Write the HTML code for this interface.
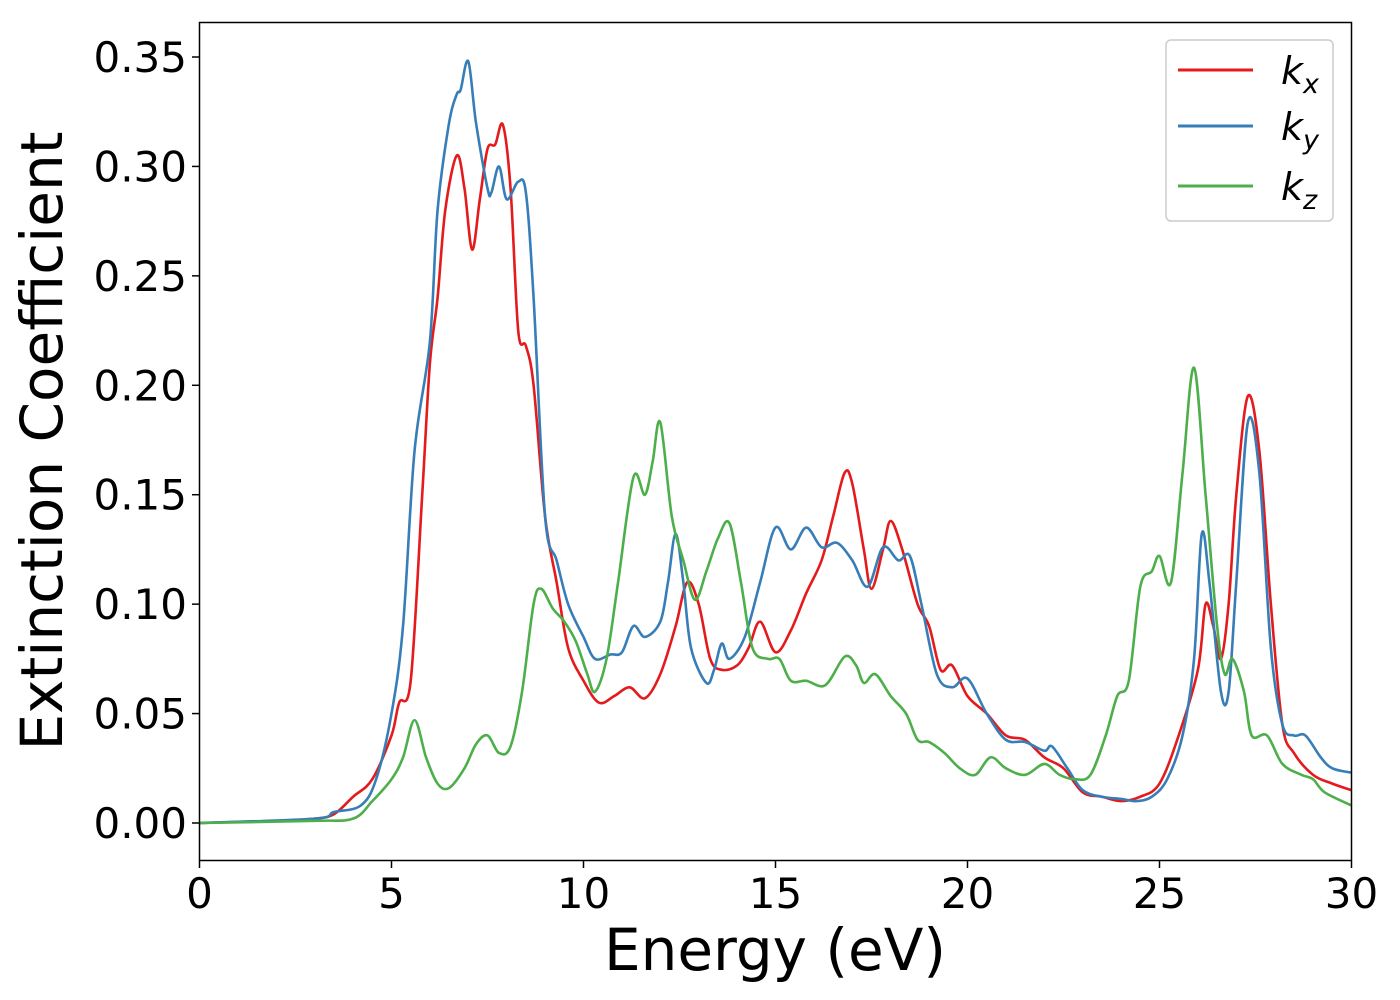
<!DOCTYPE html>
<html><head><meta charset="utf-8"><style>
body{margin:0;background:#fff;}
svg{display:block;font-family:"DejaVu Sans","Liberation Sans",sans-serif;}
</style></head><body>
<svg id="chart" width="1400" height="1000">
<rect x="0" y="0" width="1400" height="1000" fill="#fff"/>
<g id="plot"></g>
<rect x="199.5" y="22.5" width="1152" height="838" fill="none" stroke="#000" stroke-width="1.5"/>
<g id="ticks"></g>
<text x="775" y="970" font-size="58" text-anchor="middle">Energy (eV)</text>
<text transform="translate(62,441) rotate(-90)" font-size="58" text-anchor="middle">Extinction Coefficient</text>
<g>
<rect x="1166" y="40" width="167" height="181" rx="5" fill="#fff" stroke="#ccc" stroke-width="1.5"/>
<g><line x1="1178" x2="1253" y1="70" y2="70" stroke="#e41a1c" stroke-width="3"/><text x="1281" y="84" font-size="38" font-style="italic">k<tspan font-size="27" dy="9">x</tspan></text></g>
<g><line x1="1178" x2="1253" y1="126" y2="126" stroke="#377eb8" stroke-width="3"/><text x="1281" y="140" font-size="38" font-style="italic">k<tspan font-size="27" dy="9">y</tspan></text></g>
<g><line x1="1178" x2="1253" y1="186" y2="186" stroke="#4daf4a" stroke-width="3"/><text x="1281" y="200" font-size="38" font-style="italic">k<tspan font-size="27" dy="9">z</tspan></text></g>
</g>
</svg>
<script>
const xTicks=[0,5,10,15,20,25,30];
const yTicks=[0,0.05,0.10,0.15,0.20,0.25,0.30,0.35];
const yTickLabels=["0.00","0.05","0.10","0.15","0.20","0.25","0.30","0.35"];
const kxE=[0,2,3,3.5,4,4.5,5,5.2,5.5,5.8,6.0,6.2,6.4,6.7,6.9,7.1,7.3,7.5,7.7,7.9,8.1,8.3,8.5,8.7,9.0,9.3,9.6,10.0,10.4,10.8,11.2,11.6,12.0,12.4,12.7,13.0,13.3,13.6,14.0,14.3,14.6,15.0,15.4,15.8,16.2,16.5,16.8,17.0,17.3,17.5,17.8,18.0,18.3,18.7,19.0,19.3,19.6,20.0,20.5,21.0,21.5,22.0,22.5,23.0,23.5,24.0,24.5,25.0,25.5,26.0,26.2,26.4,26.6,26.8,27.0,27.3,27.6,27.9,28.2,28.5,29.0,29.5,30];
const kxV=[0,0.001,0.002,0.004,0.012,0.02,0.04,0.055,0.065,0.15,0.21,0.24,0.28,0.305,0.29,0.262,0.285,0.308,0.31,0.319,0.29,0.225,0.218,0.2,0.14,0.11,0.08,0.065,0.055,0.058,0.062,0.057,0.068,0.09,0.11,0.1,0.075,0.07,0.072,0.08,0.092,0.078,0.088,0.105,0.12,0.14,0.16,0.155,0.125,0.107,0.125,0.138,0.125,0.1,0.09,0.07,0.072,0.058,0.05,0.04,0.038,0.03,0.025,0.014,0.012,0.01,0.012,0.018,0.04,0.07,0.1,0.09,0.075,0.1,0.15,0.195,0.17,0.1,0.045,0.032,0.022,0.018,0.015];
const kyE=[0,3,3.5,4.2,4.6,5.0,5.3,5.6,6.0,6.2,6.5,6.7,6.8,7.0,7.2,7.5,7.6,7.8,8.0,8.3,8.5,8.7,9.0,9.3,9.6,10.0,10.3,10.7,11.0,11.3,11.6,12.0,12.2,12.4,12.6,12.8,13.2,13.4,13.6,13.8,14.2,14.6,15.0,15.4,15.8,16.2,16.6,17.0,17.4,17.8,18.2,18.5,18.8,19.2,19.6,20.0,20.5,21.0,21.5,22.0,22.2,22.6,23.0,23.5,24.0,24.4,24.8,25.2,25.6,25.9,26.1,26.3,26.6,26.8,27.0,27.3,27.6,27.9,28.2,28.5,28.8,29.2,29.5,30];
const kyV=[0,0.002,0.005,0.008,0.02,0.05,0.09,0.17,0.22,0.28,0.32,0.333,0.335,0.348,0.32,0.29,0.288,0.3,0.285,0.293,0.288,0.24,0.14,0.12,0.1,0.085,0.075,0.077,0.078,0.09,0.085,0.092,0.11,0.132,0.11,0.08,0.064,0.07,0.082,0.075,0.085,0.11,0.135,0.125,0.135,0.126,0.128,0.12,0.108,0.126,0.12,0.122,0.1,0.068,0.062,0.066,0.05,0.038,0.037,0.033,0.035,0.025,0.015,0.012,0.011,0.01,0.012,0.02,0.04,0.075,0.132,0.11,0.06,0.06,0.11,0.183,0.16,0.08,0.045,0.04,0.04,0.03,0.025,0.023];
const kzE=[0,3,4,4.5,5.0,5.3,5.6,5.9,6.2,6.5,6.9,7.2,7.5,7.8,8.1,8.4,8.7,8.9,9.2,9.5,9.8,10.1,10.3,10.6,10.9,11.3,11.6,11.8,12.0,12.3,12.6,12.9,13.2,13.5,13.8,14.1,14.4,14.8,15.1,15.4,15.8,16.3,16.8,17.1,17.3,17.6,18.0,18.4,18.7,19.0,19.4,19.8,20.2,20.6,21.0,21.5,22.0,22.4,22.8,23.2,23.6,23.9,24.2,24.5,24.8,25.0,25.3,25.6,25.9,26.2,26.5,26.7,26.9,27.2,27.4,27.8,28.2,28.7,29.0,29.3,30];
const kzV=[0,0.001,0.002,0.01,0.02,0.03,0.047,0.03,0.018,0.016,0.025,0.036,0.04,0.032,0.035,0.06,0.1,0.107,0.098,0.092,0.083,0.068,0.06,0.075,0.11,0.158,0.15,0.165,0.183,0.14,0.12,0.102,0.115,0.13,0.137,0.11,0.08,0.075,0.075,0.065,0.065,0.063,0.076,0.072,0.064,0.068,0.058,0.05,0.038,0.037,0.032,0.025,0.022,0.03,0.025,0.022,0.027,0.022,0.02,0.022,0.04,0.058,0.065,0.108,0.115,0.122,0.11,0.16,0.208,0.15,0.09,0.068,0.075,0.06,0.04,0.04,0.027,0.022,0.02,0.014,0.008];
const NS='http://www.w3.org/2000/svg';
const xs=e=>199.5+e*1152/30;
const ys=v=>823-v*(823-57)/0.35;
function smooth(E,V){
  const p=E.map((e,i)=>[xs(e),ys(V[i])]);
  let d='M'+p[0][0]+','+p[0][1];
  for(let i=0;i<p.length-1;i++){
    const p0=p[i-1]||p[i],p1=p[i],p2=p[i+1],p3=p[i+2]||p2;
    const c1=[p1[0]+(p2[0]-p0[0])/6,p1[1]+(p2[1]-p0[1])/6];
    const c2=[p2[0]-(p3[0]-p1[0])/6,p2[1]-(p3[1]-p1[1])/6];
    d+=' C'+c1[0]+','+c1[1]+' '+c2[0]+','+c2[1]+' '+p2[0]+','+p2[1];
  }
  return d;
}
const plot=document.getElementById('plot');
[[kxE,kxV,'#e41a1c','series-kx'],[kyE,kyV,'#377eb8','series-ky'],[kzE,kzV,'#4daf4a','series-kz']].forEach(s=>{
  const path=document.createElementNS(NS,'path');
  path.setAttribute('d',smooth(s[0],s[1]));
  path.setAttribute('fill','none');
  path.setAttribute('stroke',s[2]);
  path.setAttribute('stroke-width','2.6');
  
  
  plot.appendChild(path);
});
const tg=document.getElementById('ticks');
xTicks.forEach(t=>{
  const l=document.createElementNS(NS,'line');
  l.setAttribute('x1',xs(t));l.setAttribute('x2',xs(t));l.setAttribute('y1',861);l.setAttribute('y2',868);
  l.setAttribute('stroke','#000');l.setAttribute('stroke-width','1.5');
  
  
  tg.appendChild(l);
  const tx=document.createElementNS(NS,'text');
  tx.setAttribute('x',xs(t));tx.setAttribute('y',908);tx.setAttribute('font-size','42');tx.setAttribute('text-anchor','middle');
  tx.textContent=String(t);
  
  
  tg.appendChild(tx);
});
yTicks.forEach((t,i)=>{
  const l=document.createElementNS(NS,'line');
  l.setAttribute('x1',192);l.setAttribute('x2',199);l.setAttribute('y1',ys(t));l.setAttribute('y2',ys(t));
  l.setAttribute('stroke','#000');l.setAttribute('stroke-width','1.5');
  
  
  tg.appendChild(l);
  const tx=document.createElementNS(NS,'text');
  tx.setAttribute('x',187);tx.setAttribute('y',ys(t)+15);tx.setAttribute('font-size','42');tx.setAttribute('text-anchor','end');
  tx.textContent=yTickLabels[i];
  
  
  tg.appendChild(tx);
});
</script>
</body></html>
